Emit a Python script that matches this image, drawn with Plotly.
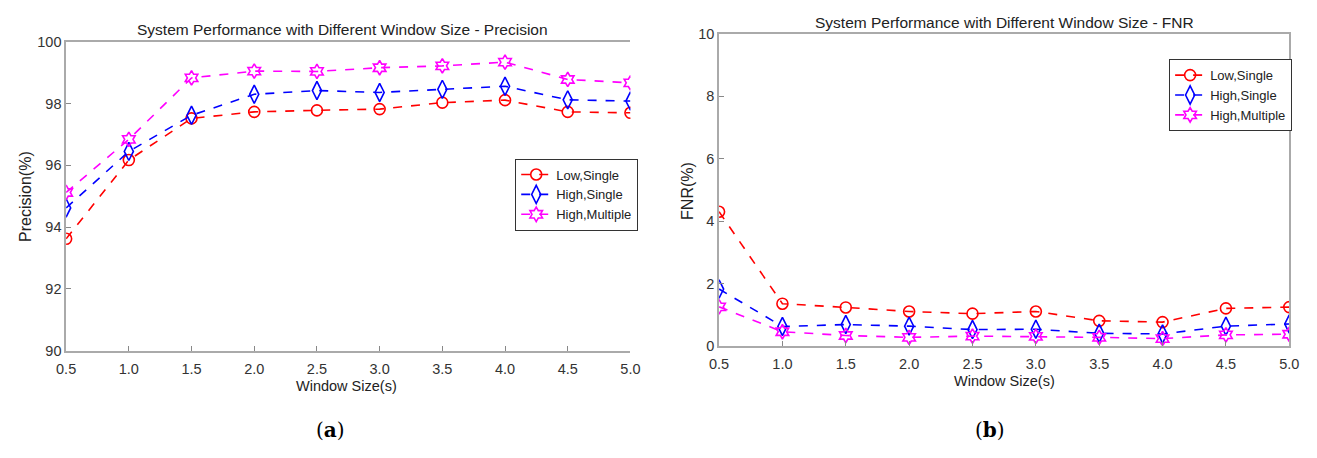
import plotly.graph_objects as go

W, H = 1317, 458

window = [0.5, 1.0, 1.5, 2.0, 2.5, 3.0, 3.5, 4.0, 4.5, 5.0]
tick_labels = ["0.5", "1.0", "1.5", "2.0", "2.5", "3.0", "3.5", "4.0", "4.5", "5.0"]
series_names = ["Low,Single", "High,Single", "High,Multiple"]

prec_low_single = [93.62, 96.17, 97.52, 97.73, 97.78, 97.82, 98.03, 98.11, 97.73, 97.70]
prec_high_single = [94.62, 96.45, 97.62, 98.30, 98.42, 98.36, 98.46, 98.56, 98.12, 98.08]
prec_high_multiple = [95.12, 96.84, 98.83, 99.05, 99.04, 99.16, 99.22, 99.34, 98.78, 98.67]

fnr_low_single = [4.30, 1.35, 1.23, 1.10, 1.03, 1.10, 0.80, 0.76, 1.20, 1.24]
fnr_high_single = [1.82, 0.62, 0.68, 0.63, 0.52, 0.53, 0.40, 0.38, 0.63, 0.70]
fnr_high_multiple = [1.25, 0.45, 0.33, 0.27, 0.31, 0.30, 0.27, 0.23, 0.35, 0.37]

colors = ["#ff0000", "#0000ff", "#ff00ff"]
symbols = ["circle-open", "diamond-tall-open", "hexagram-open"]
sizes = [11, 13, 11]

def px_x(p):
    return p / W

def px_y(p):
    return 1 - p / H

fig = go.Figure()

left_sets = [prec_low_single, prec_high_single, prec_high_multiple]
right_sets = [fnr_low_single, fnr_high_single, fnr_high_multiple]

for i, (name, ys) in enumerate(zip(series_names, left_sets)):
    fig.add_trace(go.Scatter(
        x=window, y=ys, name=name, mode="lines+markers",
        line=dict(color=colors[i], width=1.6, dash="dash"),
        marker=dict(symbol=symbols[i], size=sizes[i], color=colors[i], line=dict(width=1.6, color=colors[i])),
        xaxis="x", yaxis="y", legend="legend",
    ))
for i, (name, ys) in enumerate(zip(series_names, right_sets)):
    fig.add_trace(go.Scatter(
        x=window, y=ys, name=name, mode="lines+markers",
        line=dict(color=colors[i], width=1.6, dash="dash"),
        marker=dict(symbol=symbols[i], size=sizes[i], color=colors[i], line=dict(width=1.6, color=colors[i])),
        xaxis="x2", yaxis="y2", legend="legend2",
    ))

font_main = "Liberation Sans, Arial, sans-serif"
tick_font = dict(family=font_main, size=14.5, color="#333333")
axis_common = dict(
    ticks="inside", ticklen=5, tickcolor="#888888", tickwidth=1,
    linecolor="#aaaaaa", linewidth=1.5, showgrid=False, zeroline=False,
    tickfont=tick_font, showline=True,
)

legend_common = dict(
    xanchor="left", yanchor="top",
    bordercolor="#333333", borderwidth=1, bgcolor="white",
    font=dict(family=font_main, size=13, color="#222222"),
    tracegroupgap=0, itemwidth=30,
)

fig.update_layout(
    width=W, height=H,
    margin=dict(l=0, r=0, t=0, b=0),
    paper_bgcolor="white", plot_bgcolor="white",
    showlegend=True,
    font=dict(family=font_main, color="#222222"),
    xaxis=dict(domain=[px_x(57), px_x(630)], range=[0.5, 5.0], tickvals=window, ticktext=tick_labels,
               anchor="y", mirror=True, ticklabelstandoff=4, **axis_common),
    yaxis=dict(domain=[px_y(355), px_y(35)], range=[90, 100], tickvals=[90, 92, 94, 96, 98, 100],
               anchor="x", mirror=False, **axis_common),
    xaxis2=dict(domain=[px_x(720), px_x(1299)], range=[0.5, 5.0], tickvals=window, ticktext=tick_labels,
                anchor="y2", mirror=True, ticklabelstandoff=4, **axis_common),
    yaxis2=dict(domain=[px_y(350), px_y(27)], range=[0, 10], tickvals=[0, 2, 4, 6, 8, 10],
                anchor="x2", mirror=True, **axis_common),
    legend=dict(x=px_x(513), y=px_y(156), **legend_common),
    legend2=dict(x=px_x(1177), y=px_y(53), **legend_common),
)

annotations = [
    dict(text="System Performance with Different Window Size - Precision", x=px_x(338), y=px_y(22),
         font=dict(family=font_main, size=15.5, color="#222222")),
    dict(text="System Performance with Different Window Size - FNR", x=px_x(1010), y=px_y(15),
         font=dict(family=font_main, size=15.5, color="#222222")),
    dict(text="Window Size(s)", x=px_x(342), y=px_y(392),
         font=dict(family=font_main, size=14.5, color="#222222")),
    dict(text="Window Size(s)", x=px_x(1010), y=px_y(387),
         font=dict(family=font_main, size=14.5, color="#222222")),
    dict(text="Precision(%)", x=px_x(15), y=px_y(195), textangle=-90,
         font=dict(family=font_main, size=16, color="#222222")),
    dict(text="FNR(%)", x=px_x(688), y=px_y(190), textangle=-90,
         font=dict(family=font_main, size=16, color="#222222")),
    dict(text="(<b>a</b>)", x=px_x(325), y=px_y(437),
         font=dict(family="DejaVu Serif, Liberation Serif, serif", size=20, color="#000000")),
    dict(text="(<b>b</b>)", x=px_x(995), y=px_y(437),
         font=dict(family="DejaVu Serif, Liberation Serif, serif", size=20, color="#000000")),
]
for a in annotations:
    a.update(xref="paper", yref="paper", showarrow=False, xanchor="center", yanchor="middle")
fig.update_layout(annotations=annotations)

fig.write_html("out.html")
